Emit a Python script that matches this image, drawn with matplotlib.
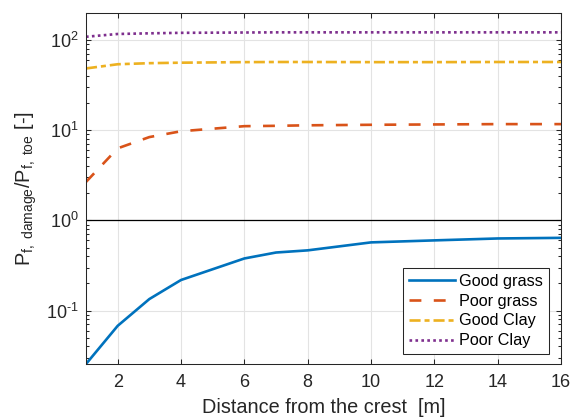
import matplotlib
matplotlib.use("Agg")
import matplotlib.pyplot as plt
from matplotlib.ticker import LogLocator, NullFormatter, FixedLocator, FuncFormatter
import math

plt.rcParams['font.family'] = ['Liberation Sans', 'DejaVu Sans']
plt.rcParams['mathtext.fontset'] = 'custom'
plt.rcParams['mathtext.rm'] = 'Liberation Sans'
plt.rcParams['mathtext.it'] = 'Liberation Sans'
plt.rcParams['mathtext.bf'] = 'Liberation Sans'

# Data
distance = [1, 2, 3, 4, 6, 7, 8, 10, 12, 14, 16]
good_grass = [0.0255, 0.0676, 0.134, 0.218, 0.378, 0.44, 0.465, 0.57, 0.60, 0.63, 0.64]
poor_grass = [2.67, 6.3, 8.4, 9.75, 11.1, 11.2, 11.35, 11.5, 11.6, 11.7, 11.7]
good_clay = [48.5, 54.0, 55.5, 56.2, 57.0, 57.2, 57.2, 57.0, 57.0, 57.2, 57.2]
poor_clay = [109, 117, 119, 120.5, 121.5, 122, 122, 122, 122, 122, 122]
labels = ["Good grass", "Poor grass", "Good Clay", "Poor Clay"]
xticks = [2, 4, 6, 8, 10, 12, 14, 16]

fig = plt.figure(figsize=(5.71, 4.17), dpi=100)
ax = fig.add_axes([86/571, 1-364/417, (561-86)/571, (364-13)/417])

txt = '#262626'
lw = 1.9
ax.plot(distance, good_grass, color='#0072BD', lw=lw, label=labels[0])
ax.plot(distance, poor_grass, color='#D95319', lw=lw, dashes=(4.5, 4.7), label=labels[1])
ax.plot(distance, good_clay, color='#EDB120', lw=lw, dashes=(4.2, 1.5, 1.9, 1.5), label=labels[2])
ax.plot(distance, poor_clay, color='#7E2F8E', lw=lw, dashes=(1.0, 1.25), label=labels[3])
ax.axhline(1, color='black', lw=0.9, zorder=1.5)

ax.set_yscale('log')
ax.set_xlim(1, 16)
ax.set_ylim(good_grass[0], 200)
ax.xaxis.set_major_locator(FixedLocator(xticks))
ax.yaxis.set_major_locator(LogLocator(base=10, numticks=10))
ax.yaxis.set_minor_locator(LogLocator(base=10, subs=range(2, 10), numticks=20))
ax.yaxis.set_minor_formatter(NullFormatter())


def fmt(v, pos):
    e = int(round(math.log10(v)))
    return r'10$^{\text{%d}}$' % e


ax.yaxis.set_major_formatter(FuncFormatter(fmt))

ax.grid(True, which='major', color='#e3e3e3', lw=0.8)
ax.set_axisbelow(True)

for s in ax.spines.values():
    s.set_color(txt)
    s.set_linewidth(0.75)

ax.tick_params(axis='both', which='both', direction='in', top=True, right=True,
               colors=txt, labelsize=13, width=0.75)
ax.tick_params(axis='both', which='major', length=3.6)
ax.tick_params(axis='both', which='minor', length=2.2)
ax.tick_params(axis='x', pad=7)
ax.tick_params(axis='y', pad=5)

ax.set_xlabel('Distance from the crest  [m]', fontsize=14.3, color=txt, labelpad=5)
ax.set_ylabel(r'P$_{\mathregular{f,\ damage}}$/P$_{\mathregular{f,\ toe}}$ [-]', fontsize=14.3,
              color=txt, labelpad=5)

leg = ax.legend(loc='lower right', bbox_to_anchor=(0.9747, 0.0285), borderaxespad=0,
                fontsize=11.7, handlelength=2.83, handletextpad=0.3, labelspacing=0.3,
                borderpad=0.35, fancybox=False, framealpha=1, edgecolor=txt)
leg.get_frame().set_linewidth(0.75)
for t in leg.get_texts():
    t.set_color('black')

fig.savefig('out.png', dpi=100)
